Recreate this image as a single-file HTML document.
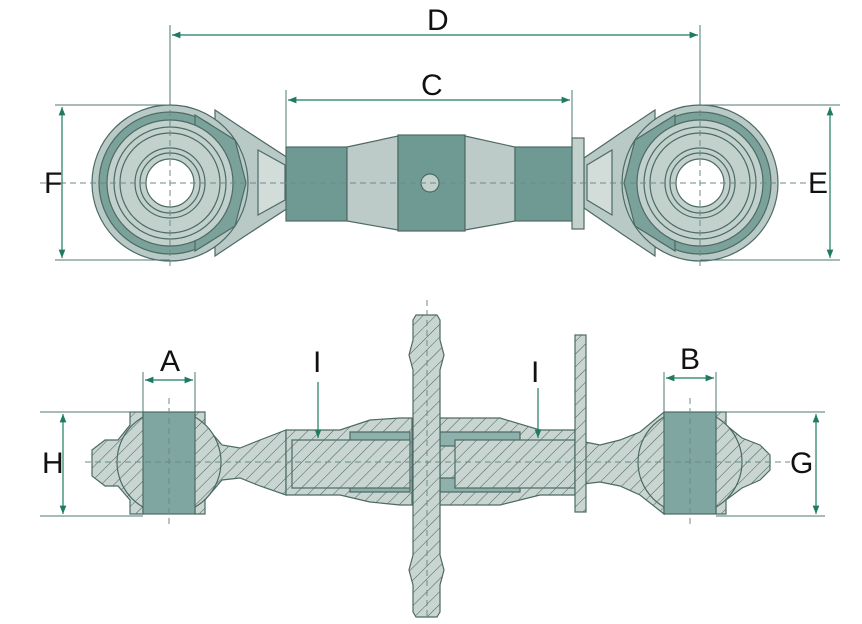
<!DOCTYPE html>
<html><head><meta charset="utf-8"><style>html,body{margin:0;padding:0;background:#fff}svg{display:block}text{font-family:"Liberation Sans",sans-serif;font-size:30px;fill:#111}</style></head>
<body>
<svg width="862" height="624" viewBox="0 0 862 624" xmlns="http://www.w3.org/2000/svg">
<defs>
<pattern id="h" width="9" height="9" patternUnits="userSpaceOnUse" patternTransform="rotate(45)">
<rect width="9" height="9" fill="#c8d5d1"/><line x1="0" y1="0" x2="0" y2="9" stroke="#46605b" stroke-width="1"/></pattern>
<marker id="a" viewBox="0 0 10 10" refX="10" refY="5" markerWidth="9" markerHeight="7" orient="auto-start-reverse"><path d="M0,1 L10,5 L0,9 z" fill="#1f7a62"/></marker>
<clipPath id="cb"><rect x="0" y="412" width="862" height="102"/></clipPath>
</defs>
<g stroke="#4d6a65" stroke-width="1.2">
<path d="M215,110 L245,130 L288,158 L288,208 L245,236 L215,256 Z" fill="#b9cac6"/>
<path d="M258,150 L285,165 L285,200 L258,215 Z" fill="#d2ddda"/>
<circle cx="170" cy="183" r="78" fill="#b9cac6"/>
<circle cx="170" cy="183" r="71" fill="#7ba19b"/>
<path d="M195,115 L235,140 L246,183 L235,226 L195,251 Z" fill="#7ba19b"/>
<circle cx="170" cy="183" r="63" fill="#c3d1cd"/>
<circle cx="170" cy="183" r="56" fill="none"/>
<circle cx="170" cy="183" r="50" fill="none"/>
<circle cx="170" cy="183" r="35" fill="none"/>
<circle cx="170" cy="183" r="30" fill="none"/>
<circle cx="170" cy="183" r="24" fill="#fff"/>
<path d="M655,110 L625,130 L584,158 L584,208 L625,236 L655,256 Z" fill="#b9cac6"/>
<path d="M612,150 L587,165 L587,200 L612,215 Z" fill="#d2ddda"/>
<circle cx="700" cy="183" r="78" fill="#b9cac6"/>
<circle cx="700" cy="183" r="71" fill="#7ba19b"/>
<path d="M675,115 L635,140 L624,183 L635,226 L675,251 Z" fill="#7ba19b"/>
<circle cx="700" cy="183" r="63" fill="#c3d1cd"/>
<circle cx="700" cy="183" r="56" fill="none"/>
<circle cx="700" cy="183" r="50" fill="none"/>
<circle cx="700" cy="183" r="35" fill="none"/>
<circle cx="700" cy="183" r="30" fill="none"/>
<circle cx="700" cy="183" r="24" fill="#fff"/>
<rect x="286" y="147" width="61" height="74" fill="#6f9a94"/>
<path d="M347,147 L398,136 L398,230 L347,221 Z" fill="#bccbc7"/>
<rect x="398" y="135" width="67" height="96" fill="#6f9a94"/>
<path d="M465,136 L515,147 L515,221 L465,230 Z" fill="#bccbc7"/>
<rect x="515" y="147" width="57" height="74" fill="#6f9a94"/>
<rect x="572" y="138" width="12" height="91" fill="#c3d1cd"/>
<circle cx="430" cy="183" r="9" fill="#c3d1cd"/>

<path d="M92,450 L105,440 L118,440 L130,425 L130,412 L143,412 L143,514 L130,514 L130,500 L118,486 L105,486 L92,476 Z" fill="url(#h)"/>
<path d="M195,412 L205,412 L205,425 L222,445 L240,448 L260,440 L286,430 L286,495 L260,486 L240,478 L222,480 L205,500 L205,514 L195,514 Z" fill="url(#h)"/>
<circle cx="169" cy="462" r="52" fill="url(#h)" clip-path="url(#cb)"/>
<rect x="143" y="412" width="52" height="102" fill="#7fa6a0"/>
<path d="M286,430 L340,430 L370,420 L400,418 L412,418 L412,505 L400,505 L370,502 L340,495 L286,495 Z" fill="url(#h)"/>
<path d="M440,418 L500,418 L540,430 L575,430 L575,495 L540,495 L500,505 L440,505 Z" fill="url(#h)"/>
<path d="M350,432 L410,432 L410,446 L350,446 Z M350,478 L410,478 L410,492 L350,492 Z" fill="#8fb1ab"/>
<path d="M440,432 L520,432 L520,446 L440,446 Z M440,478 L520,478 L520,492 L440,492 Z" fill="#8fb1ab"/>
<rect x="292" y="440" width="118" height="48" fill="url(#h)"/>
<rect x="455" y="440" width="120" height="48" fill="url(#h)"/>
<path d="M575,440 L600,445 L620,440 L640,432 L664,412 L664,514 L640,495 L620,486 L600,482 L575,485 Z" fill="url(#h)"/>
<path d="M716,412 L726,412 L726,425 L742,438 L760,445 L770,455 L770,470 L760,480 L742,488 L726,500 L726,514 L716,514 Z" fill="url(#h)"/>
<circle cx="690" cy="462" r="52" fill="url(#h)" clip-path="url(#cb)"/>
<rect x="664" y="412" width="52" height="102" fill="#7fa6a0"/>
<rect x="575" y="335" width="11" height="177" fill="url(#h)"/>
<path d="M416,315 L437,315 L440,320 L440,340 L444,355 L440,370 L440,555 L444,570 L440,585 L440,612 L437,617 L416,617 L413,612 L413,585 L409,570 L413,555 L413,370 L409,355 L413,340 L413,320 Z" fill="url(#h)"/>
</g>

<g stroke="#6d8a85" stroke-width="1" stroke-dasharray="6,4" fill="none">
<line x1="40" y1="183" x2="820" y2="183"/>
<line x1="170" y1="100" x2="170" y2="270"/>
<line x1="700" y1="100" x2="700" y2="270"/>
<line x1="85" y1="462" x2="790" y2="462"/>
<line x1="169" y1="398" x2="169" y2="525"/>
<line x1="690" y1="398" x2="690" y2="525"/>
<line x1="427" y1="300" x2="427" y2="620"/>
</g>

<g stroke="#4f7a70" stroke-width="1" fill="none">
<line x1="170" y1="25" x2="170" y2="105"/>
<line x1="700" y1="25" x2="700" y2="105"/>
<line x1="286" y1="90" x2="286" y2="147"/>
<line x1="572" y1="90" x2="572" y2="138"/>
<line x1="55" y1="105" x2="170" y2="105"/>
<line x1="55" y1="260" x2="170" y2="260"/>
<line x1="700" y1="105" x2="840" y2="105"/>
<line x1="700" y1="260" x2="840" y2="260"/>
<line x1="40" y1="412" x2="143" y2="412"/>
<line x1="40" y1="516" x2="143" y2="516"/>
<line x1="716" y1="412" x2="825" y2="412"/>
<line x1="716" y1="516" x2="825" y2="516"/>
<line x1="143" y1="372" x2="143" y2="412"/>
<line x1="195" y1="372" x2="195" y2="412"/>
<line x1="664" y1="372" x2="664" y2="412"/>
<line x1="716" y1="372" x2="716" y2="412"/>
</g>
<g stroke="#1f7a62" stroke-width="1.2" fill="none">
<line x1="172" y1="35" x2="698" y2="35" marker-start="url(#a)" marker-end="url(#a)"/>
<line x1="288" y1="100" x2="570" y2="100" marker-start="url(#a)" marker-end="url(#a)"/>
<line x1="62" y1="107" x2="62" y2="258" marker-start="url(#a)" marker-end="url(#a)"/>
<line x1="830" y1="107" x2="830" y2="258" marker-start="url(#a)" marker-end="url(#a)"/>
<line x1="145" y1="380" x2="193" y2="380" marker-start="url(#a)" marker-end="url(#a)"/>
<line x1="666" y1="378" x2="714" y2="378" marker-start="url(#a)" marker-end="url(#a)"/>
<line x1="63" y1="414" x2="63" y2="514" marker-start="url(#a)" marker-end="url(#a)"/>
<line x1="816" y1="414" x2="816" y2="514" marker-start="url(#a)" marker-end="url(#a)"/>
<line x1="318" y1="382" x2="318" y2="438" marker-end="url(#a)"/>
<line x1="538" y1="388" x2="538" y2="438" marker-end="url(#a)"/>
</g>

<text x="427" y="30">D</text>
<text x="421" y="95">C</text>
<text x="44" y="193">F</text>
<text x="808" y="193">E</text>
<text x="160" y="371">A</text>
<text x="680" y="369">B</text>
<text x="313" y="372">I</text>
<text x="531" y="382">I</text>
<text x="42" y="473">H</text>
<text x="790" y="473">G</text>
</svg>
</body></html>
